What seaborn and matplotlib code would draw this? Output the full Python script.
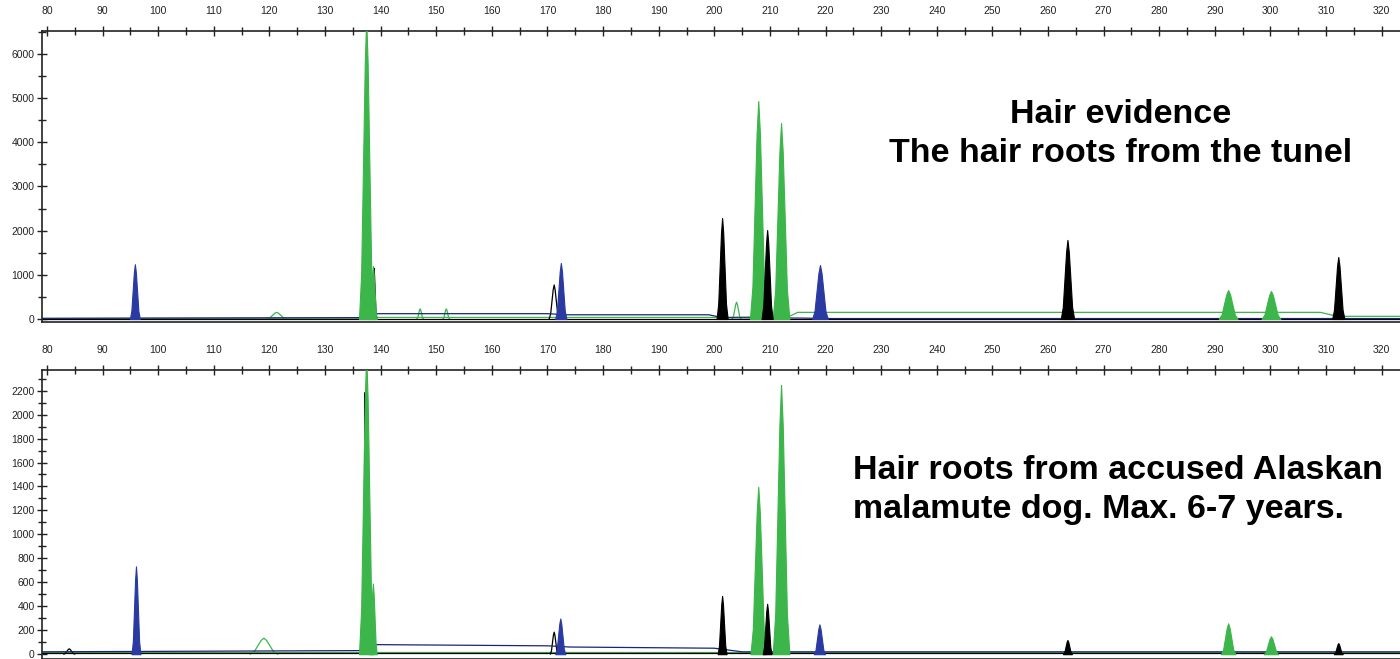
import numpy as np
import pandas as pd
import matplotlib
matplotlib.use("Agg")
import matplotlib.pyplot as plt
import matplotlib.ticker as mticker
import seaborn as sns

# fragment sizes (bp) / heights (RFU)
# top panel: hair evidence
top_green_size = [121.3, 137.4, 138.6, 147.1, 151.8, 204.0, 207.9, 212.0, 292.4, 300.1]
top_green_rfu = [150, 6800, 1200, 230, 230, 380, 4935, 4437, 656, 634]
top_green_fill = [0, 1, 1, 0, 0, 0, 1, 1, 1, 1]
top_green_w = [1.8, 1.3, 0.7, 0.6, 0.6, 0.8, 1.5, 1.5, 1.7, 1.7]

top_black_size = [137.0, 137.3, 138.8, 171.2, 201.4, 209.5, 263.5, 312.2]
top_black_rfu = [300, 3800, 1150, 770, 2287, 2015, 1790, 1404]
top_black_fill = [0, 0, 0, 0, 1, 1, 1, 1]
top_black_w = [0.5, 0.15, 0.5, 0.9, 1.0, 1.0, 1.2, 1.1]

top_blue_size = [95.8, 172.4, 219.0]
top_blue_rfu = [1240, 1268, 1222]
top_blue_fill = [1, 1, 1]
top_blue_w = [0.9, 1.0, 1.4]

# baselines (breakpoints)
top_blue_base_x = [79, 136, 139.5, 170, 173.5, 199, 201.5, 216, 221, 324]
top_blue_base_y = [15, 30, 120, 120, 95, 95, 30, 20, 10, 10]
top_green_base_x = [79, 136, 139.5, 200, 213.5, 215, 309, 312, 324]
top_green_base_y = [10, 20, 35, 35, 60, 150, 150, 60, 60]
top_black_base_x = [79, 324]
top_black_base_y = [10, 10]

# bottom panel: accused dog
bot_green_size = [119.0, 137.4, 138.6, 207.9, 212.0, 292.4, 300.1]
bot_green_rfu = [134, 2500, 590, 1397, 2249, 258, 150]
bot_green_fill = [0, 1, 1, 1, 1, 1, 1]
bot_green_w = [2.5, 1.3, 0.7, 1.4, 1.5, 1.3, 1.3]

bot_black_size = [84.0, 137.2, 171.2, 201.4, 209.5, 263.5, 312.2]
bot_black_rfu = [45, 2184, 184, 487, 421, 119, 93]
bot_black_fill = [0, 0, 0, 1, 1, 1, 1]
bot_black_w = [1.0, 0.3, 0.7, 0.8, 0.8, 0.8, 0.8]

bot_blue_size = [96.0, 172.3, 218.9]
bot_blue_rfu = [733, 298, 249]
bot_blue_fill = [1, 1, 1]
bot_blue_w = [0.8, 0.9, 1.0]

bot_blue_base_x = [79, 136, 139, 170, 174, 200, 205, 324]
bot_blue_base_y = [20, 30, 80, 70, 60, 50, 20, 20]
bot_green_base_x = [79, 324]
bot_green_base_y = [15, 15]
bot_black_base_x = [79, 324]
bot_black_base_y = [10, 10]

# peak outline shape (relative to base half-width and height)
prof_dx = np.array([-1, -0.7, -0.45, -0.2, 0, 0.2, 0.45, 0.7, 1])
prof_fy = np.array([0, 0.15, 0.5, 0.85, 1, 0.85, 0.5, 0.15, 0])

GREEN = "#3cb54a"
BLUE = "#2a3aa0"
NAVY = "#1c2478"
BLACK = "#000000"

sns.set_theme(style="white")
plt.rcParams["font.family"] = ["Liberation Sans", "DejaVu Sans"]

fig = plt.figure(figsize=(14, 6.59), dpi=100)
ax1 = fig.add_axes([0.0298, 0.5114, 0.9702, 0.4416])
ax2 = fig.add_axes([0.0298, 0.0, 0.9702, 0.4385])


def draw_dye(ax, bx, by, sizes, rfus, fills, widths, color, linecolor):
    sns.lineplot(x=bx, y=by, ax=ax, color=linecolor, lw=0.9, estimator=None, sort=False)
    for c, h, f, w in zip(sizes, rfus, fills, widths):
        px = c + prof_dx * w
        py = prof_fy * h
        if f:
            ax.fill_between(px, 0, py, color=color, lw=0.8, ec=color, zorder=3)
        else:
            sns.lineplot(x=px, y=py, ax=ax, color=linecolor, lw=0.9, estimator=None, sort=False)


def style_axis(ax, ymax, ymin, major, minor):
    ax.set_xlim(79.05, 323.3)
    ax.set_ylim(ymin, ymax)
    ax.xaxis.set_major_locator(mticker.MultipleLocator(10))
    ax.xaxis.set_minor_locator(mticker.MultipleLocator(5))
    ax.yaxis.set_major_locator(mticker.MultipleLocator(major))
    ax.yaxis.set_minor_locator(mticker.MultipleLocator(minor))
    ax.xaxis.tick_top()
    ax.tick_params(axis="x", which="both", top=True, bottom=False, labeltop=True,
                   labelbottom=False, direction="inout", colors="#222222",
                   labelsize=7.5, pad=7)
    ax.tick_params(axis="x", which="major", length=7, width=1)
    ax.tick_params(axis="x", which="minor", length=6, width=1)
    ax.tick_params(axis="y", which="both", left=True, direction="inout",
                   colors="#222222", labelsize=7.5, pad=1.5)
    ax.tick_params(axis="y", which="major", length=7, width=1)
    ax.tick_params(axis="y", which="minor", length=6, width=1)
    ax.spines["right"].set_visible(False)
    for s in ["left", "top", "bottom"]:
        ax.spines[s].set_color("#222222")
        ax.spines[s].set_linewidth(1.2)
    ax.set_xlabel("")
    ax.set_ylabel("")


draw_dye(ax1, top_green_base_x, top_green_base_y, top_green_size, top_green_rfu,
         top_green_fill, top_green_w, GREEN, GREEN)
draw_dye(ax1, top_black_base_x, top_black_base_y, top_black_size, top_black_rfu,
         top_black_fill, top_black_w, BLACK, BLACK)
draw_dye(ax1, top_blue_base_x, top_blue_base_y, top_blue_size, top_blue_rfu,
         top_blue_fill, top_blue_w, BLUE, NAVY)
style_axis(ax1, 6520, -68, 1000, 500)

draw_dye(ax2, bot_green_base_x, bot_green_base_y, bot_green_size, bot_green_rfu,
         bot_green_fill, bot_green_w, GREEN, GREEN)
draw_dye(ax2, bot_black_base_x, bot_black_base_y, bot_black_size, bot_black_rfu,
         bot_black_fill, bot_black_w, BLACK, BLACK)
draw_dye(ax2, bot_blue_base_x, bot_blue_base_y, bot_blue_size, bot_blue_rfu,
         bot_blue_fill, bot_blue_w, BLUE, NAVY)
style_axis(ax2, 2372, -40, 200, 100)

fig.text(1121 / 1400, 1 - 134 / 659, "Hair evidence\nThe hair roots from the tunel",
         ha="center", va="center", multialignment="center", fontsize=24.5,
         fontweight="bold", color="black", linespacing=1.37)
fig.text(853 / 1400, 1 - 490 / 659, "Hair roots from accused Alaskan\nmalamute dog. Max. 6-7 years.",
         ha="left", va="center", multialignment="left", fontsize=24.5,
         fontweight="bold", color="black", linespacing=1.33)

fig.savefig("out.png", dpi=100)
